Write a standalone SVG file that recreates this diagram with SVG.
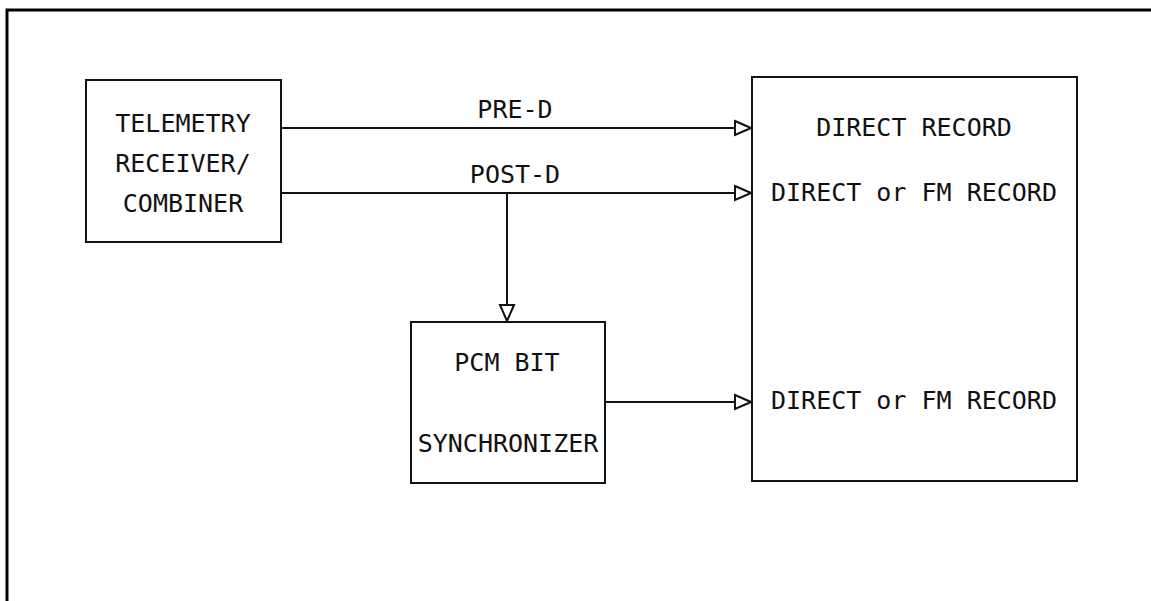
<svg xmlns="http://www.w3.org/2000/svg" width="1151" height="601" viewBox="0 0 1151 601">
<style>
.box{fill:none;stroke:#111;stroke-width:2}
.ln{fill:none;stroke:#111;stroke-width:2}
.t{font-family:"DejaVu Sans Mono","Liberation Mono",monospace;font-size:25px;fill:#111;text-anchor:middle}
</style>
<defs>
<marker id="arr" viewBox="0 0 18 18" refX="18" refY="9" markerWidth="18" markerHeight="18" markerUnits="userSpaceOnUse" orient="auto">
<path d="M1,2 L17,9 L1,16 Z" fill="#fff" stroke="#111" stroke-width="2" stroke-linejoin="miter"/>
</marker>
</defs>
<rect width="1151" height="601" fill="#fff"/>
<path d="M7,601 V10 H1151" fill="none" stroke="#000" stroke-width="3"/>
<g id="telemetry">
<rect class="box" x="86" y="80" width="195" height="162"/>
<text class="t" x="183" y="132">TELEMETRY</text>
<text class="t" x="183" y="172">RECEIVER/</text>
<text class="t" x="183" y="212">COMBINER</text>
</g>
<g id="recorder">
<rect class="box" x="752" y="77" width="325" height="404"/>
<text class="t" x="914" y="136">DIRECT RECORD</text>
<text class="t" x="914" y="201">DIRECT or FM RECORD</text>
<text class="t" x="914" y="409">DIRECT or FM RECORD</text>
</g>
<g id="bitsync">
<rect class="box" x="411" y="322" width="194" height="161"/>
<text class="t" x="507" y="371">PCM BIT</text>
<text class="t" x="508" y="452">SYNCHRONIZER</text>
</g>
<g id="connectors">
<line class="ln" x1="281" y1="128" x2="752" y2="128" marker-end="url(#arr)"/>
<line class="ln" x1="281" y1="193" x2="752" y2="193" marker-end="url(#arr)"/>
<line class="ln" x1="507" y1="193" x2="507" y2="322" marker-end="url(#arr)"/>
<line class="ln" x1="605" y1="402" x2="752" y2="402" marker-end="url(#arr)"/>
<text class="t" x="515" y="118">PRE-D</text>
<text class="t" x="515" y="183">POST-D</text>
</g>
</svg>
